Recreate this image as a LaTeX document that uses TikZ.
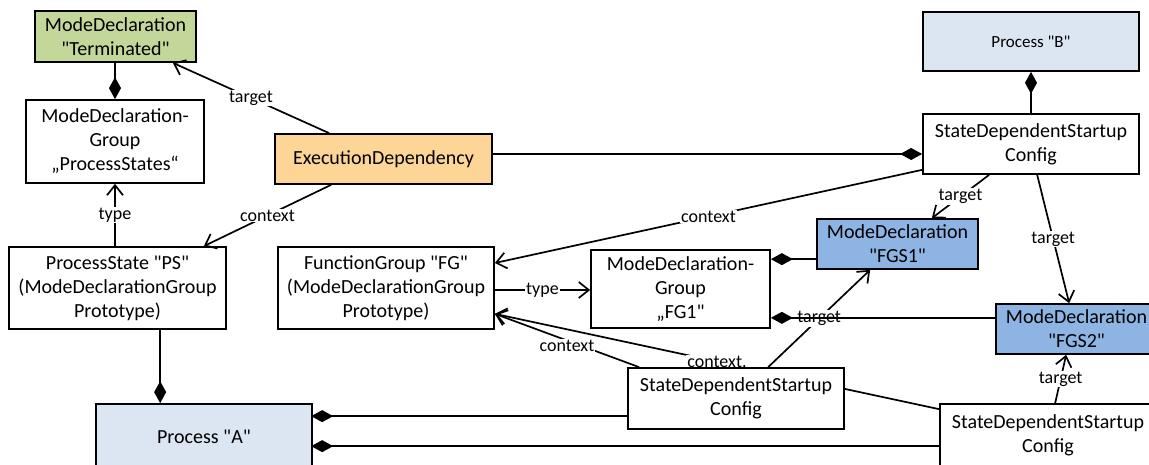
\documentclass[tikz,border=0pt]{standalone}
\usepackage{fontspec}
\setmainfont{Carlito}[Ligatures=TeXOff]
\usetikzlibrary{arrows.meta,calc}
\pgfdeclarelayer{bg}
\pgfsetlayers{bg,main}
\definecolor{greenF}{HTML}{C4D79B}
\definecolor{orangeF}{HTML}{FCD597}
\definecolor{procF}{HTML}{DCE6F2}
\definecolor{modeF}{HTML}{8DB4E2}
\begin{document}
\begin{tikzpicture}[x=1pt,y=-1pt,
  box/.style={draw,line width=1.7pt,fill=white,align=center,inner sep=0pt,font=\fontsize{20}{24}\selectfont},
  conn/.style={line width=1.7pt},
  comp/.style={conn,{Diamond[length=22pt,width=12pt]}-},
  assoc/.style={conn,-{Straight Barb[length=10pt,width=16pt]}},
  lbl/.style={fill=white,inner sep=1pt,font=\fontsize{18}{20}\selectfont},
]
\useasboundingbox (0,0) rectangle (1149,465);

% nodes
\node[box,fill=greenF,minimum width=161pt,minimum height=51pt] (term) at (115.5,36.5) {ModeDeclaration\\"Terminated"};
\node[box,minimum width=178pt,minimum height=83pt] (mdgps) at (115,141.5) {ModeDeclaration-\\Group\\„ProcessStates“};
\node[box,fill=orangeF,minimum width=217pt,minimum height=50pt] (execdep) at (383.5,159) {ExecutionDependency};
\node[box,minimum width=217pt,minimum height=82pt] (ps) at (117.5,288) {ProcessState "PS"\\(ModeDeclarationGroup\\Prototype)};
\node[box,minimum width=216pt,minimum height=82pt] (fg) at (386,288) {FunctionGroup "FG"\\(ModeDeclarationGroup\\Prototype)};
\node[box,fill=procF,minimum width=216pt,minimum height=66pt] (procA) at (204,437) {Process "A"};
\node[box,minimum width=179pt,minimum height=78pt] (fg1) at (680.5,289) {ModeDeclaration-\\Group\\„FG1"};
\node[box,fill=modeF,minimum width=161pt,minimum height=50pt] (fgs1) at (897.5,244) {ModeDeclaration\\"FGS1"};
\node[box,fill=modeF,minimum width=161pt,minimum height=50pt] (fgs2) at (1076.5,329) {ModeDeclaration\\"FGS2"};
\node[box,fill=procF,minimum width=216pt,minimum height=59pt,font=\fontsize{17}{20}\selectfont] (procB) at (1031,41.5) {Process "B"};
\node[box,minimum width=216pt,minimum height=60pt] (sdsc1) at (1031,144) {StateDependentStartup\\Config};
\node[box,minimum width=216pt,minimum height=61pt] (sdsc2) at (736,398.5) {StateDependentStartup\\Config};
\node[box,minimum width=216pt,minimum height=62pt] (sdsc3) at (1048,435) {StateDependentStartup\\Config};

% helper coordinates
\coordinate (pa1) at ($(procA.north west)+(65,0)$);
\coordinate (s1a) at ($(sdsc1.west)+(0,10)$);
\coordinate (t1) at ($(fg.east)+(0,2)$);
\coordinate (f1a) at ($(fg1.north east)+(0,10)$);
\coordinate (f2a) at ($(fg1.south east)+(0,-11)$);
\coordinate (fgc) at ($(fg.south east)+(0,-16)$);
\coordinate (a1) at ($(procA.north west)+(216,13)$);
\coordinate (a2) at ($(procA.north west)+(216,43)$);

% connectors
\draw[comp] (mdgps.north) -- (mdgps.north |- term.south);
\draw[assoc] ($(execdep.north west)+(55,0)$) -- node[lbl]{target} ($(term.south east)+(-24,0)$);
\draw[assoc] ($(execdep.south west)+(57,0)$) -- node[lbl]{context} ($(ps.north east)+(-23,0)$);
\draw[assoc] (ps.north -| mdgps.south) -- node[lbl]{type} (mdgps.south);
\draw[comp] (pa1) -- (pa1 |- ps.south);
\draw[comp] (s1a) -- (s1a -| execdep.east);
\draw[comp] (procB.south) -- (sdsc1.north);
\draw[assoc] ($(sdsc1.south west)+(0,-5)$) -- node[lbl]{context} ($(fg.east)+(0,-25)$);
\draw[assoc] ($(sdsc1.south west)+(67,0)$) -- node[lbl]{target} ($(fgs1.north east)+(-47,0)$);
\draw[assoc] ($(sdsc1.south west)+(115,0)$) -- node[lbl]{target} ($(fgs2.north west)+(74,0)$);
\draw[assoc] (t1) -- node[lbl]{type} (t1 -| fg1.west);
\draw[comp] (f1a) -- (f1a -| fgs1.west);
\draw[assoc] ($(sdsc2.north west)+(141,0)$) -- node[lbl]{target} ($(fgs1.south west)+(54,0)$);
\draw[comp] (f2a) -- (f2a -| fgs2.west);
\draw[assoc] ($(sdsc2.north west)+(12,0)$) -- node[lbl,yshift=-5pt]{context} (fgc);
\begin{pgfonlayer}{bg}
\draw[assoc] ($(sdsc3.north west)+(0,6)$) -- node[lbl]{context.} (fgc);
\end{pgfonlayer}
\draw[assoc] ($(sdsc3.north west)+(116,0)$) -- node[lbl]{target} ($(fgs2.south west)+(71,0)$);
\draw[comp] (a1) -- (a1 -| sdsc2.west);
\draw[comp] (a2) -- (a2 -| sdsc3.west);
\end{tikzpicture}
\end{document}
